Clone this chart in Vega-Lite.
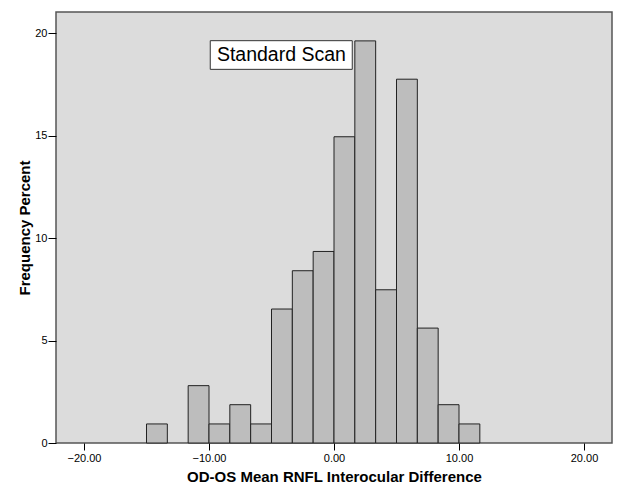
{
  "$schema": "https://vega.github.io/schema/vega-lite/v6.json",
  "width": 556,
  "height": 431,
  "autosize": "none",
  "padding": {"left": 56, "top": 12, "right": 11, "bottom": 56},
  "background": "white",
  "config": {
    "view": {"fill": "#DCDCDC", "stroke": "#555555", "strokeWidth": 1.5},
    "font": "Liberation Sans",
    "axis": {
      "labelFont": "Liberation Sans",
      "titleFont": "Liberation Sans",
      "labelColor": "#000000",
      "titleColor": "#000000",
      "tickColor": "#000000",
      "grid": false,
      "domain": false
    }
  },
  "layer": [
    {
      "data": {
        "values": [
          {"bin_start": -15.0, "bin_end": -13.333, "percent": 0.93},
          {"bin_start": -11.667, "bin_end": -10.0, "percent": 2.80},
          {"bin_start": -10.0, "bin_end": -8.333, "percent": 0.93},
          {"bin_start": -8.333, "bin_end": -6.667, "percent": 1.87},
          {"bin_start": -6.667, "bin_end": -5.0, "percent": 0.93},
          {"bin_start": -5.0, "bin_end": -3.333, "percent": 6.54},
          {"bin_start": -3.333, "bin_end": -1.667, "percent": 8.41},
          {"bin_start": -1.667, "bin_end": 0.0, "percent": 9.35},
          {"bin_start": 0.0, "bin_end": 1.667, "percent": 14.95},
          {"bin_start": 1.667, "bin_end": 3.333, "percent": 19.63},
          {"bin_start": 3.333, "bin_end": 5.0, "percent": 7.48},
          {"bin_start": 5.0, "bin_end": 6.667, "percent": 17.76},
          {"bin_start": 6.667, "bin_end": 8.333, "percent": 5.61},
          {"bin_start": 8.333, "bin_end": 10.0, "percent": 1.87},
          {"bin_start": 10.0, "bin_end": 11.667, "percent": 0.93}
        ]
      },
      "mark": {"type": "rect", "fill": "#BDBDBD", "stroke": "#222222", "strokeWidth": 1},
      "encoding": {
        "x": {
          "field": "bin_start",
          "type": "quantitative",
          "scale": {"domain": [-22.24, 22.24], "nice": false, "zero": false},
          "axis": {
            "values": [-20, -10, 0, 10, 20],
            "format": ".2f",
            "labelFontSize": 11,
            "tickSize": 7,
            "labelPadding": 2,
            "title": "OD-OS Mean RNFL Interocular Difference",
            "titleFontSize": 15,
            "titleFontWeight": "bold",
            "titlePadding": 6
          }
        },
        "x2": {"field": "bin_end"},
        "y": {
          "field": "percent",
          "type": "quantitative",
          "scale": {"domain": [0, 21.04], "nice": false},
          "axis": {
            "values": [0, 5, 10, 15, 20],
            "format": "d",
            "labelFontSize": 11,
            "tickSize": 8,
            "labelPadding": 1,
            "title": "Frequency Percent",
            "titleFontSize": 15,
            "titleFontWeight": "bold",
            "titlePadding": 2
          }
        },
        "y2": {"datum": 0}
      }
    },
    {
      "data": {"values": [{"x1": -9.9, "x2": 1.46, "y1": 18.24, "y2": 19.64}]},
      "mark": {"type": "rect", "fill": "white", "stroke": "#333333", "strokeWidth": 1},
      "encoding": {
        "x": {"field": "x1", "type": "quantitative"},
        "x2": {"field": "x2"},
        "y": {"field": "y1", "type": "quantitative"},
        "y2": {"field": "y2"}
      }
    },
    {
      "data": {"values": [{"label": "Standard Scan", "xc": -4.21, "yc": 18.94}]},
      "mark": {"type": "text", "font": "Liberation Sans", "fontSize": 19.5, "color": "#000000", "align": "center", "baseline": "middle"},
      "encoding": {
        "x": {"field": "xc", "type": "quantitative"},
        "y": {"field": "yc", "type": "quantitative"},
        "text": {"field": "label"}
      }
    }
  ]
}
